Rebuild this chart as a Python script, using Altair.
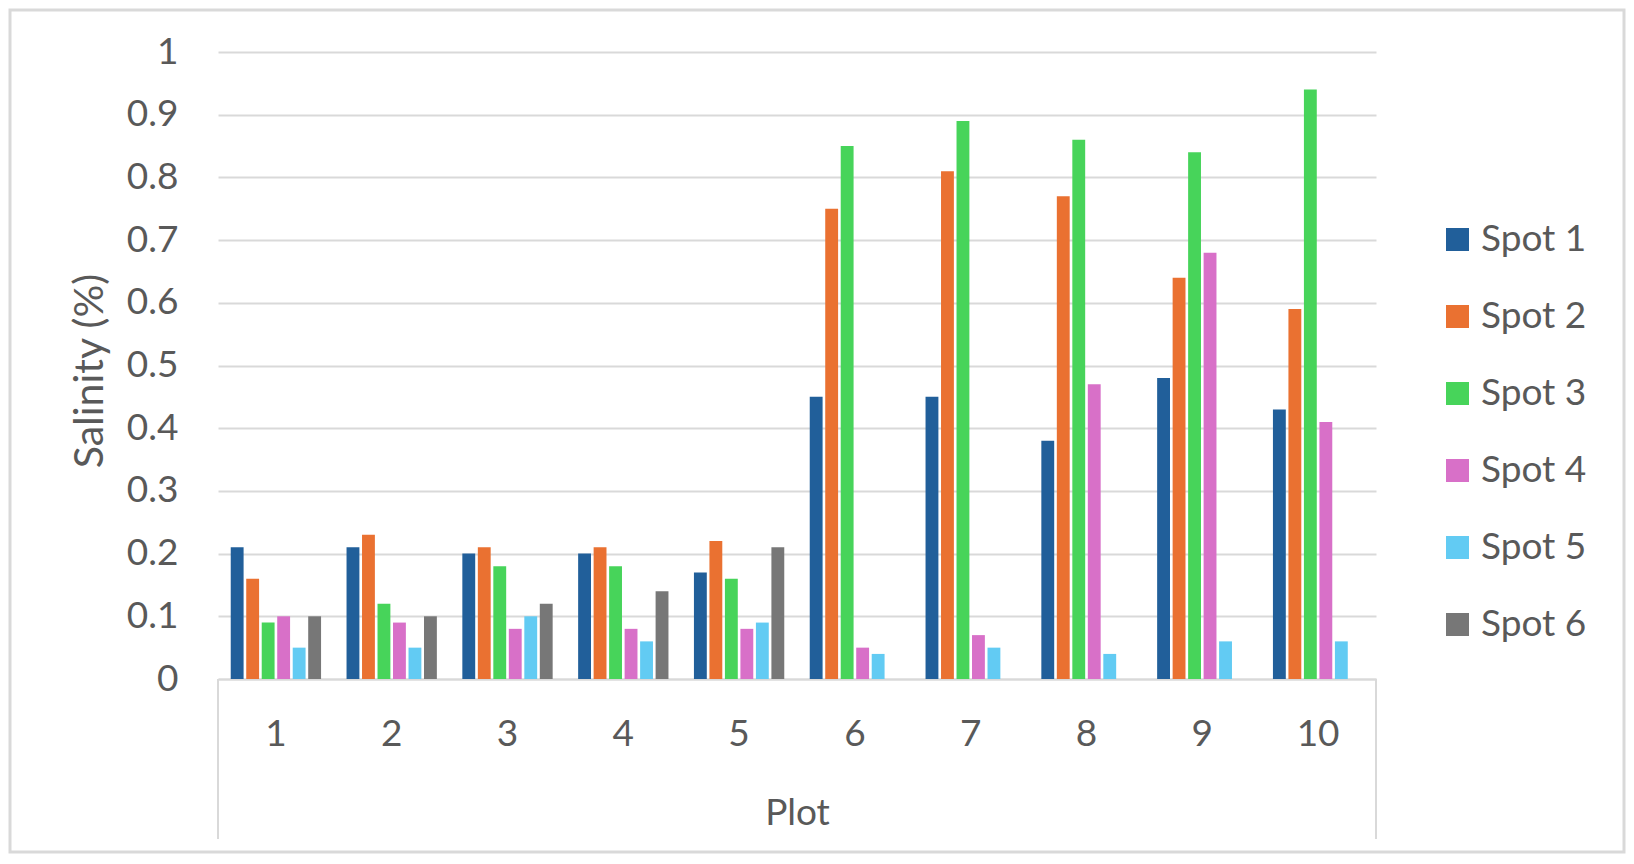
import altair as alt
import pandas as pd

plots = [str(i) for i in range(1, 11)]
spots = ["Spot 1", "Spot 2", "Spot 3", "Spot 4", "Spot 5", "Spot 6"]
spot1 = [0.21, 0.21, 0.20, 0.20, 0.17, 0.45, 0.45, 0.38, 0.48, 0.43]
spot2 = [0.16, 0.23, 0.21, 0.21, 0.22, 0.75, 0.81, 0.77, 0.64, 0.59]
spot3 = [0.09, 0.12, 0.18, 0.18, 0.16, 0.85, 0.89, 0.86, 0.84, 0.94]
spot4 = [0.10, 0.09, 0.08, 0.08, 0.08, 0.05, 0.07, 0.47, 0.68, 0.41]
spot5 = [0.05, 0.05, 0.10, 0.06, 0.09, 0.04, 0.05, 0.04, 0.06, 0.06]
spot6 = [0.10, 0.10, 0.12, 0.14, 0.21, None, None, None, None, None]
colors = ["#215F9A", "#EA7131", "#47D45A", "#D870C8", "#62CBF3", "#777777"]
y_ticks = [0, 0.1, 0.2, 0.3, 0.4, 0.5, 0.6, 0.7, 0.8, 0.9, 1]

series = [spot1, spot2, spot3, spot4, spot5, spot6]
rows = []
for s, vals in zip(spots, series):
    for p, v in zip(plots, vals):
        if v is not None:
            rows.append({"Plot": p, "Spot": s, "Salinity": v})
df = pd.DataFrame(rows)

W, H = 1158, 627
PL, PT, PR, PB = 210, 44, 250, 175
TXT = "#595959"
GRID = "#D9D9D9"
FONT = "Lato"
FS = 37

bars = alt.Chart(df).mark_bar().encode(
    x=alt.X("Plot:N", sort=plots,
            scale=alt.Scale(paddingInner=0.22, paddingOuter=0.11),
            axis=alt.Axis(title="Plot", labelAngle=0, ticks=False, tickSize=0,
                          labelPadding=55, labelBaseline="middle",
                          labelFontSize=FS, labelColor=TXT, labelFont=FONT,
                          titleFontSize=FS, titleColor=TXT, titleFont=FONT,
                          titleFontWeight="normal", titleY=134, titleBaseline="middle",
                          domainColor=GRID, domainWidth=2, grid=False)),
    xOffset=alt.XOffset("Spot:N", sort=spots,
                        scale=alt.Scale(paddingInner=0.17, paddingOuter=0)),
    y=alt.Y("Salinity:Q", scale=alt.Scale(domain=[0, 1]),
            axis=alt.Axis(title="Salinity (%)", values=y_ticks, format=".1~f",
                          ticks=False, tickSize=0, domain=False, labelPadding=40,
                          labelFontSize=FS, labelColor=TXT, labelFont=FONT,
                          titleFontSize=41, titleColor=TXT, titleFont=FONT,
                          titleFontWeight="normal", titleX=-128, titleY=H / 2 + 5,
                          titleBaseline="middle",
                          grid=True, gridColor=GRID, gridWidth=2)),
    color=alt.Color("Spot:N", sort=spots,
                    scale=alt.Scale(domain=spots, range=colors),
                    legend=alt.Legend(title=None, orient="none", legendX=1221, legendY=169,
                                      symbolType="square", symbolSize=529,
                                      symbolStrokeWidth=0, labelFontSize=FS,
                                      labelColor=TXT, labelFont=FONT, labelOffset=5,
                                      rowPadding=39, padding=0)),
)

one = pd.DataFrame({"k": [0]})
left_rule = alt.Chart(one).mark_rule(color=GRID, strokeWidth=2).encode(
    x=alt.value(0), y=alt.value(H), y2=alt.value(H + 160))
right_rule = alt.Chart(one).mark_rule(color=GRID, strokeWidth=2).encode(
    x=alt.value(W), y=alt.value(H), y2=alt.value(H + 160))
border = alt.Chart(one).mark_rect(filled=False, stroke=GRID, strokeWidth=3).encode(
    x=alt.value(-PL + 2), x2=alt.value(W + PR - 2),
    y=alt.value(-PT + 2), y2=alt.value(H + PB - 2))

chart = alt.layer(border, bars, left_rule, right_rule).properties(
    width=W, height=H,
    autosize=alt.AutoSizeParams(type="none"),
    padding={"left": PL, "top": PT, "right": PR, "bottom": PB},
).configure_view(stroke=None)

chart.save("out.html", embed_options={"renderer": "svg", "actions": False})
